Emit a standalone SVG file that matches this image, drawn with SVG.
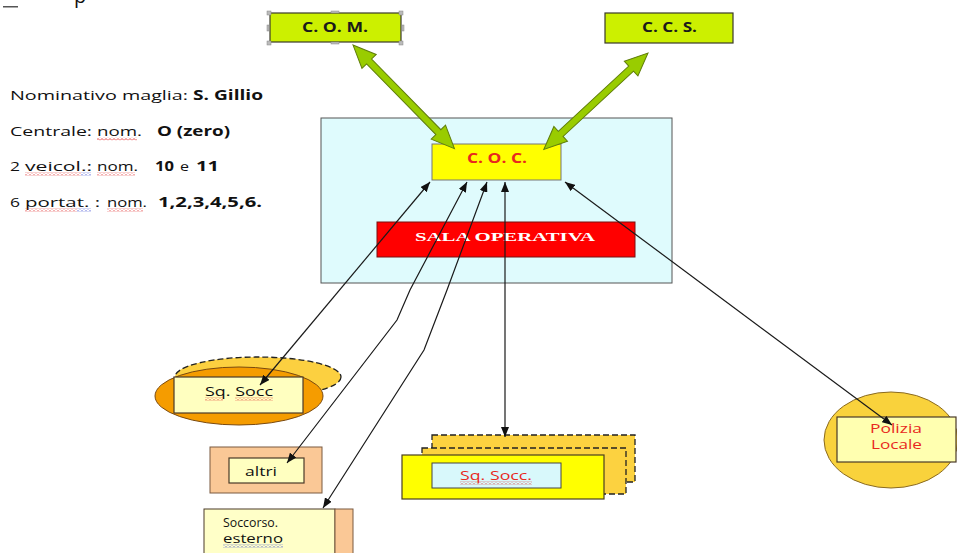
<svg xmlns="http://www.w3.org/2000/svg" width="957" height="553" viewBox="0 0 957 553">
<style>
.t{font-family:"Open Sans","Liberation Sans",sans-serif;font-size:13.5px;fill:#111}
.s{font-size:12px}
.b{font-weight:bold}
.lbl{font-family:"Open Sans","Liberation Sans",sans-serif;font-size:13.5px;font-weight:bold;fill:#1a1a1a}
.red{fill:#e8281e}
.conn{fill:none;stroke:#1a1a1a;stroke-width:1.2;marker-start:url(#ah);marker-end:url(#ah)}
.garrow{fill:#99cc00;stroke:#5f7d0a;stroke-width:1}
.handle{fill:#bbb;stroke:#888;stroke-width:0.5}
.pale{fill:#ffffc0;stroke:#4a3a28;stroke-width:1.2}
.peach{fill:#fac896;stroke:#7a5a40;stroke-width:1}
.dash{stroke:#222;stroke-width:1.3;stroke-dasharray:6,3}
</style>
<defs>
<marker id="ah" viewBox="0 0 10 8" refX="10" refY="4" markerWidth="10" markerHeight="8" markerUnits="userSpaceOnUse" orient="auto-start-reverse">
<path d="M0,0 L10,4 L0,8 z" fill="#111"/>
</marker>
<pattern id="wr" width="4" height="3" patternUnits="userSpaceOnUse">
<path d="M0,2.5 L2,0.5 L4,2.5" fill="none" stroke="#e02020" stroke-width="0.8"/>
</pattern>
<pattern id="wb" width="4" height="3" patternUnits="userSpaceOnUse">
<path d="M0,2.5 L2,0.5 L4,2.5" fill="none" stroke="#3040d0" stroke-width="0.8"/>
</pattern>
</defs>
<rect width="957" height="553" fill="#fff"/>

<!-- top-left fragments -->
<g id="fragment">
<rect x="3" y="6" width="15" height="1.5" fill="#555"/>
<text x="74" y="3" style="font-family:'Open Sans','Liberation Sans',sans-serif;font-size:20px;fill:#111">p</text>
</g>

<!-- info text -->
<g id="info">
<text class="t" x="10" y="100" textLength="178" lengthAdjust="spacingAndGlyphs">Nominativo maglia:</text>
<text class="t b" x="193" y="100" textLength="70" lengthAdjust="spacingAndGlyphs">S. Gillio</text>

<text class="t" x="10" y="136" textLength="82" lengthAdjust="spacingAndGlyphs">Centrale:</text>
<text class="t" x="97" y="136" textLength="45" lengthAdjust="spacingAndGlyphs">nom.</text>
<text class="t b" x="157" y="136" textLength="73" lengthAdjust="spacingAndGlyphs">O (zero)</text>
<rect x="97" y="137.5" width="40" height="3" fill="url(#wr)"/>

<text class="t" x="10" y="171" textLength="10" lengthAdjust="spacingAndGlyphs">2</text>
<text class="t" x="25" y="171" textLength="67" lengthAdjust="spacingAndGlyphs">veicol.:</text>
<text class="t" x="97" y="171" textLength="41" lengthAdjust="spacingAndGlyphs">nom.</text>
<text class="t b" x="155" y="171" textLength="19" lengthAdjust="spacingAndGlyphs">10</text>
<text class="t" x="180" y="171" textLength="9" lengthAdjust="spacingAndGlyphs">e</text>
<text class="t b" x="196" y="171" textLength="23" lengthAdjust="spacingAndGlyphs">11</text>
<rect x="25" y="172.5" width="56" height="3" fill="url(#wr)"/>
<rect x="81" y="172.5" width="10" height="3" fill="url(#wb)"/>
<rect x="97" y="172.5" width="38" height="3" fill="url(#wr)"/>

<text class="t" x="10" y="207" textLength="10" lengthAdjust="spacingAndGlyphs">6</text>
<text class="t" x="25" y="207" textLength="75" lengthAdjust="spacingAndGlyphs">portat. :</text>
<text class="t" x="107" y="207" textLength="40" lengthAdjust="spacingAndGlyphs">nom.</text>
<text class="t b" x="158" y="207" textLength="104" lengthAdjust="spacingAndGlyphs">1,2,3,4,5,6.</text>
<rect x="25" y="208.5" width="52" height="3" fill="url(#wr)"/>
<rect x="77" y="208.5" width="14" height="3" fill="url(#wb)"/>
<rect x="107" y="208.5" width="36" height="3" fill="url(#wr)"/>
</g>

<!-- Sala operativa container -->
<g id="sala-container">
<rect x="321" y="118" width="351" height="165" fill="#dffbfd" stroke="#555" stroke-width="1"/>
</g>
<g id="sala-operativa">
<rect x="377" y="222" width="258" height="35" fill="#ff0000" stroke="#7a1010" stroke-width="1"/>
<text x="415" y="241" textLength="180" lengthAdjust="spacingAndGlyphs" style="font-family:'Liberation Serif',serif;font-size:13.5px;font-weight:bold;fill:#fff">SALA OPERATIVA</text>
</g>

<!-- C.O.M. -->
<g id="com">
<rect x="270" y="13" width="131" height="29" fill="#ccf000" stroke="#3a3a2a" stroke-width="1.2"/>
<text class="lbl" x="302" y="32" textLength="66" lengthAdjust="spacingAndGlyphs">C. O. M.</text>
<rect class="handle" x="267" y="11" width="4" height="4"/>
<rect class="handle" x="399" y="11" width="4" height="4"/>
<rect class="handle" x="267" y="41" width="4" height="4"/>
<rect class="handle" x="399" y="41" width="4" height="4"/>
<rect class="handle" x="331" y="11" width="8" height="2"/>
<rect class="handle" x="331" y="42" width="8" height="2"/>
<rect class="handle" x="267" y="25" width="2" height="6"/>
<rect class="handle" x="402" y="25" width="2" height="6"/>
</g>

<!-- C.C.S. -->
<g id="ccs">
<rect x="605" y="13" width="128" height="30" fill="#ccf000" stroke="#3a3a2a" stroke-width="1.2"/>
<text class="lbl" x="642" y="32" textLength="55" lengthAdjust="spacingAndGlyphs">C. C. S.</text>
</g>

<!-- C.O.C. -->
<g id="coc">
<rect x="432" y="144" width="129" height="36" fill="#ffff00" stroke="#777" stroke-width="1"/>
<text class="lbl red" x="467" y="163" textLength="60" lengthAdjust="spacingAndGlyphs">C. O. C.</text>
</g>

<!-- Sq. Socc (ellipse) -->
<g id="sq-socc-1">
<ellipse cx="258" cy="377" rx="83" ry="20" fill="#fcd040" class="dash"/>
<ellipse cx="239" cy="396" rx="84" ry="29" fill="#f59c00" stroke="#7a4a10" stroke-width="1"/>
<rect class="pale" x="174" y="377" width="129" height="36"/>
<text class="t" x="205" y="396" textLength="68" lengthAdjust="spacingAndGlyphs">Sq. Socc</text>
<rect x="205" y="397.5" width="18" height="3" fill="url(#wr)"/>
<rect x="235" y="397.5" width="38" height="3" fill="url(#wr)"/>
</g>

<!-- altri -->
<g id="altri">
<rect class="peach" x="210" y="447" width="112" height="46"/>
<rect class="pale" x="229" y="458" width="75" height="25" stroke-width="1"/>
<text class="t" x="245" y="476" textLength="32" lengthAdjust="spacingAndGlyphs">altri</text>
</g>

<!-- Soccorso esterno -->
<g id="soccorso-esterno">
<rect x="204" y="509" width="131" height="50" fill="#ffffc8" stroke="#4a3a28" stroke-width="1"/>
<rect class="peach" x="335" y="509" width="18" height="50"/>
<text class="t s" x="223" y="527" textLength="55" lengthAdjust="spacingAndGlyphs">Soccorso.</text>
<text class="t s" x="223" y="543" textLength="60" lengthAdjust="spacingAndGlyphs">esterno</text>
<rect x="223" y="544.5" width="60" height="3" fill="url(#wb)"/>
</g>

<!-- Sq. Socc. (stacked) -->
<g id="sq-socc-2">
<rect x="432" y="435" width="203" height="47" fill="#fcd240" class="dash"/>
<rect x="422" y="448" width="204" height="46" fill="#fcd240" class="dash"/>
<rect x="402" y="455" width="202" height="44" fill="#ffff00" stroke="#4a4020" stroke-width="1.2"/>
<rect x="432" y="463" width="129" height="25" fill="#d8f8fb" stroke="#444" stroke-width="1"/>
<text class="t red" x="460" y="480" textLength="72" lengthAdjust="spacingAndGlyphs">Sq. Socc.</text>
<rect x="460" y="481.5" width="72" height="3" fill="url(#wr)"/>
</g>

<!-- Polizia Locale -->
<g id="polizia-locale">
<ellipse cx="891" cy="440" rx="67" ry="48" fill="#f9d23c" stroke="#8a6a20" stroke-width="1"/>
<rect x="837" y="417" width="119" height="45" fill="#ffffb0" stroke="#4a3a28" stroke-width="1.2"/>
<text class="t s red" x="870" y="433" textLength="52" lengthAdjust="spacingAndGlyphs">Polizia</text>
<text class="t s red" x="871" y="449" textLength="51" lengthAdjust="spacingAndGlyphs">Locale</text>
</g>

<!-- connectors -->
<g id="connectors">
<path class="garrow" transform="translate(353,45) rotate(45.6)" d="M0,0 L23,-10 L23,-3.5 L122,-3.5 L122,-10 L145,0 L122,10 L122,3.5 L23,3.5 L23,10 Z"/>
<path class="garrow" transform="translate(648,53) rotate(137.2)" d="M0,0 L23,-10 L23,-3.5 L119,-3.5 L119,-10 L142,0 L119,10 L119,3.5 L23,3.5 L23,10 Z"/>
<path class="conn" d="M430,182 L260,385"/>
<path class="conn" d="M467,182 L410,290 L397,320 L287,463"/>
<path class="conn" d="M487,182 L447,290 L424,350 L323,508"/>
<path class="conn" d="M505,182 L505,437"/>
<path class="conn" d="M565,182 L892,425"/>
</g>
</svg>
